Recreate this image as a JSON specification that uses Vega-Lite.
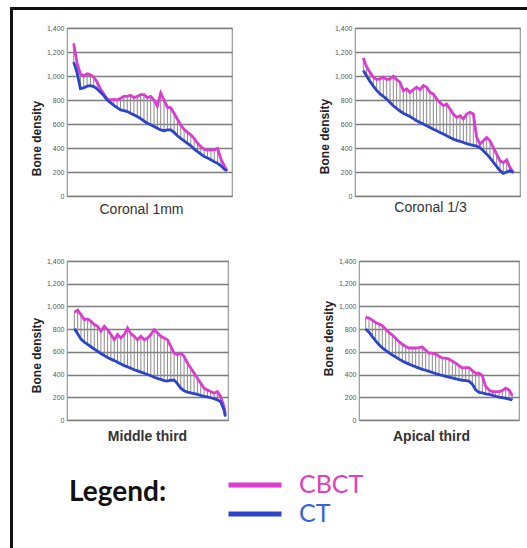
{
  "$schema": "https://vega.github.io/schema/vega-lite/v6.json",
  "padding": {"left": 10, "top": 7, "right": 0, "bottom": 0},
  "datasets": {
    "frame": [{"part": "frame"}],
    "p1": [
      {"i": 0, "CBCT": 1270, "CT": 1116}, {"i": 1, "CBCT": 1110, "CT": 1030}, {"i": 2, "CBCT": 1018, "CT": 895},
      {"i": 3, "CBCT": 1000, "CT": 900}, {"i": 4, "CBCT": 1018, "CT": 915}, {"i": 5, "CBCT": 1010, "CT": 920},
      {"i": 6, "CBCT": 990, "CT": 912}, {"i": 7, "CBCT": 950, "CT": 892}, {"i": 8, "CBCT": 892, "CT": 865},
      {"i": 9, "CBCT": 850, "CT": 837}, {"i": 10, "CBCT": 808, "CT": 800}, {"i": 11, "CBCT": 800, "CT": 778},
      {"i": 12, "CBCT": 805, "CT": 755}, {"i": 13, "CBCT": 800, "CT": 736}, {"i": 14, "CBCT": 815, "CT": 718},
      {"i": 15, "CBCT": 830, "CT": 711}, {"i": 16, "CBCT": 830, "CT": 704}, {"i": 17, "CBCT": 840, "CT": 690},
      {"i": 18, "CBCT": 820, "CT": 676}, {"i": 19, "CBCT": 830, "CT": 662}, {"i": 20, "CBCT": 845, "CT": 645},
      {"i": 21, "CBCT": 845, "CT": 625}, {"i": 22, "CBCT": 820, "CT": 607}, {"i": 23, "CBCT": 830, "CT": 593},
      {"i": 24, "CBCT": 800, "CT": 579}, {"i": 25, "CBCT": 750, "CT": 565}, {"i": 26, "CBCT": 860, "CT": 551},
      {"i": 27, "CBCT": 800, "CT": 544}, {"i": 28, "CBCT": 740, "CT": 551}, {"i": 29, "CBCT": 735, "CT": 551},
      {"i": 30, "CBCT": 690, "CT": 530}, {"i": 31, "CBCT": 640, "CT": 502}, {"i": 32, "CBCT": 590, "CT": 481},
      {"i": 33, "CBCT": 555, "CT": 460}, {"i": 34, "CBCT": 530, "CT": 439}, {"i": 35, "CBCT": 510, "CT": 418},
      {"i": 36, "CBCT": 480, "CT": 390}, {"i": 37, "CBCT": 440, "CT": 369}, {"i": 38, "CBCT": 410, "CT": 349},
      {"i": 39, "CBCT": 390, "CT": 328}, {"i": 40, "CBCT": 383, "CT": 316}, {"i": 41, "CBCT": 385, "CT": 302},
      {"i": 42, "CBCT": 385, "CT": 286}, {"i": 43, "CBCT": 397, "CT": 272}, {"i": 44, "CBCT": 307, "CT": 251},
      {"i": 45, "CBCT": 251, "CT": 223}, {"i": 45.8, "CBCT": 209, "CT": 209}
    ],
    "p2": [
      {"i": 0, "CBCT": 1150, "CT": 1045}, {"i": 1, "CBCT": 1074, "CT": 1000}, {"i": 2, "CBCT": 1032, "CT": 955},
      {"i": 3, "CBCT": 990, "CT": 915}, {"i": 4, "CBCT": 970, "CT": 880}, {"i": 5, "CBCT": 976, "CT": 850},
      {"i": 6, "CBCT": 990, "CT": 830}, {"i": 7, "CBCT": 970, "CT": 808}, {"i": 8, "CBCT": 976, "CT": 780},
      {"i": 9, "CBCT": 998, "CT": 752}, {"i": 10, "CBCT": 970, "CT": 729}, {"i": 11, "CBCT": 948, "CT": 708},
      {"i": 12, "CBCT": 878, "CT": 690}, {"i": 13, "CBCT": 892, "CT": 676}, {"i": 14, "CBCT": 864, "CT": 662},
      {"i": 15, "CBCT": 887, "CT": 645}, {"i": 16, "CBCT": 906, "CT": 627}, {"i": 17, "CBCT": 887, "CT": 613},
      {"i": 18, "CBCT": 920, "CT": 600}, {"i": 19, "CBCT": 906, "CT": 585}, {"i": 20, "CBCT": 864, "CT": 571},
      {"i": 21, "CBCT": 850, "CT": 557}, {"i": 22, "CBCT": 808, "CT": 543}, {"i": 23, "CBCT": 780, "CT": 530},
      {"i": 24, "CBCT": 753, "CT": 516}, {"i": 25, "CBCT": 767, "CT": 502}, {"i": 26, "CBCT": 725, "CT": 488},
      {"i": 27, "CBCT": 683, "CT": 474}, {"i": 28, "CBCT": 655, "CT": 464}, {"i": 29, "CBCT": 669, "CT": 456},
      {"i": 30, "CBCT": 641, "CT": 446}, {"i": 31, "CBCT": 683, "CT": 436}, {"i": 32, "CBCT": 697, "CT": 428},
      {"i": 33, "CBCT": 683, "CT": 421}, {"i": 34, "CBCT": 488, "CT": 415}, {"i": 35, "CBCT": 432, "CT": 402},
      {"i": 36, "CBCT": 460, "CT": 377}, {"i": 37, "CBCT": 488, "CT": 349}, {"i": 38, "CBCT": 460, "CT": 318},
      {"i": 39, "CBCT": 404, "CT": 283}, {"i": 40, "CBCT": 349, "CT": 246}, {"i": 41, "CBCT": 293, "CT": 211},
      {"i": 42, "CBCT": 279, "CT": 188}, {"i": 43, "CBCT": 300, "CT": 200}, {"i": 44, "CBCT": 237, "CT": 212},
      {"i": 45, "CBCT": 195, "CT": 195}
    ],
    "p3": [
      {"i": 0, "CBCT": 950, "CT": 805}, {"i": 1, "CBCT": 967, "CT": 760}, {"i": 2, "CBCT": 928, "CT": 712},
      {"i": 3, "CBCT": 884, "CT": 685}, {"i": 4, "CBCT": 890, "CT": 666}, {"i": 5, "CBCT": 869, "CT": 645},
      {"i": 6, "CBCT": 840, "CT": 624}, {"i": 7, "CBCT": 825, "CT": 605}, {"i": 8, "CBCT": 781, "CT": 585},
      {"i": 9, "CBCT": 825, "CT": 568}, {"i": 10, "CBCT": 796, "CT": 551}, {"i": 11, "CBCT": 752, "CT": 536},
      {"i": 12, "CBCT": 707, "CT": 523}, {"i": 13, "CBCT": 752, "CT": 509}, {"i": 14, "CBCT": 722, "CT": 494},
      {"i": 15, "CBCT": 752, "CT": 479}, {"i": 16, "CBCT": 811, "CT": 468}, {"i": 17, "CBCT": 760, "CT": 456},
      {"i": 18, "CBCT": 737, "CT": 442}, {"i": 19, "CBCT": 707, "CT": 432}, {"i": 20, "CBCT": 737, "CT": 422},
      {"i": 21, "CBCT": 707, "CT": 412}, {"i": 22, "CBCT": 722, "CT": 401}, {"i": 23, "CBCT": 752, "CT": 389},
      {"i": 24, "CBCT": 796, "CT": 377}, {"i": 25, "CBCT": 766, "CT": 365}, {"i": 26, "CBCT": 737, "CT": 357},
      {"i": 27, "CBCT": 722, "CT": 347}, {"i": 28, "CBCT": 707, "CT": 342}, {"i": 29, "CBCT": 648, "CT": 350},
      {"i": 30, "CBCT": 589, "CT": 351}, {"i": 31, "CBCT": 575, "CT": 320}, {"i": 32, "CBCT": 589, "CT": 280},
      {"i": 33, "CBCT": 560, "CT": 258}, {"i": 34, "CBCT": 501, "CT": 246}, {"i": 35, "CBCT": 457, "CT": 239},
      {"i": 36, "CBCT": 413, "CT": 233}, {"i": 37, "CBCT": 368, "CT": 225}, {"i": 38, "CBCT": 324, "CT": 216},
      {"i": 39, "CBCT": 280, "CT": 209}, {"i": 40, "CBCT": 265, "CT": 203}, {"i": 41, "CBCT": 250, "CT": 196},
      {"i": 42, "CBCT": 236, "CT": 187}, {"i": 43, "CBCT": 250, "CT": 177}, {"i": 44, "CBCT": 206, "CT": 160},
      {"i": 45, "CBCT": 118, "CT": 88}, {"i": 45.4, "CBCT": 50, "CT": 30}
    ],
    "p4": [
      {"i": 0, "CBCT": 905, "CT": 800}, {"i": 1, "CBCT": 897, "CT": 773}, {"i": 2, "CBCT": 880, "CT": 734},
      {"i": 3, "CBCT": 858, "CT": 697}, {"i": 4, "CBCT": 846, "CT": 663}, {"i": 5, "CBCT": 830, "CT": 634},
      {"i": 6, "CBCT": 800, "CT": 613}, {"i": 7, "CBCT": 770, "CT": 591}, {"i": 8, "CBCT": 748, "CT": 572},
      {"i": 9, "CBCT": 720, "CT": 555}, {"i": 10, "CBCT": 690, "CT": 536}, {"i": 11, "CBCT": 667, "CT": 520},
      {"i": 12, "CBCT": 648, "CT": 505}, {"i": 13, "CBCT": 634, "CT": 492}, {"i": 14, "CBCT": 634, "CT": 480},
      {"i": 15, "CBCT": 634, "CT": 468}, {"i": 16, "CBCT": 638, "CT": 457}, {"i": 17, "CBCT": 643, "CT": 446},
      {"i": 18, "CBCT": 614, "CT": 438}, {"i": 19, "CBCT": 588, "CT": 428}, {"i": 20, "CBCT": 588, "CT": 418},
      {"i": 21, "CBCT": 580, "CT": 408}, {"i": 22, "CBCT": 561, "CT": 400}, {"i": 23, "CBCT": 546, "CT": 392},
      {"i": 24, "CBCT": 544, "CT": 385}, {"i": 25, "CBCT": 536, "CT": 378}, {"i": 26, "CBCT": 518, "CT": 370},
      {"i": 27, "CBCT": 500, "CT": 363}, {"i": 28, "CBCT": 478, "CT": 355}, {"i": 29, "CBCT": 458, "CT": 350},
      {"i": 30, "CBCT": 462, "CT": 347}, {"i": 31, "CBCT": 462, "CT": 342}, {"i": 32, "CBCT": 434, "CT": 315},
      {"i": 33, "CBCT": 411, "CT": 265}, {"i": 34, "CBCT": 412, "CT": 243}, {"i": 35, "CBCT": 390, "CT": 238},
      {"i": 36, "CBCT": 294, "CT": 231}, {"i": 37, "CBCT": 265, "CT": 225}, {"i": 38, "CBCT": 250, "CT": 218},
      {"i": 39, "CBCT": 250, "CT": 209}, {"i": 40, "CBCT": 250, "CT": 202}, {"i": 41, "CBCT": 258, "CT": 196},
      {"i": 42, "CBCT": 280, "CT": 190}, {"i": 43, "CBCT": 265, "CT": 184}, {"i": 44, "CBCT": 214, "CT": 176}
    ]
  },
  "spacing": 0,
  "hconcat": [
    {
      "width": 3, "height": 541,
      "data": {"name": "frame"},
      "mark": {"type": "text", "fontSize": 0.1},
      "encoding": {"text": {"value": ""}},
      "view": {"fill": "#111111", "stroke": null}
    },
    {
      "spacing": 0,
      "vconcat": [
        {
          "width": 514, "height": 3,
          "data": {"name": "frame"},
          "mark": {"type": "text", "fontSize": 0.1},
          "encoding": {"text": {"value": ""}},
          "view": {"fill": "#111111", "stroke": null}
        },
        {
          "spacing": 15,
          "hconcat": [
            {
              "width": 1, "height": 1,
              "data": {"name": "frame"},
              "mark": {"type": "text", "fontSize": 0.1},
              "encoding": {"text": {"value": ""}},
              "view": {"stroke": null, "fill": null}
            },
            {
              "spacing": 12,
              "vconcat": [
                {
                  "width": 1, "height": 1,
                  "data": {"name": "frame"},
                  "mark": {"type": "text", "fontSize": 0.1},
                  "encoding": {"text": {"value": ""}},
                  "view": {"stroke": null, "fill": null}
                },
                {
                  "spacing": 39,
                  "vconcat": [
                    {
                      "spacing": 83,
                      "hconcat": [
                        {
                          "width": 165, "height": 168,
                          "data": {"name": "p1"},
                          "encoding": {"x": {"field": "i", "type": "quantitative", "scale": {"domain": [-2, 47.3], "nice": false, "zero": false}, "axis": {"title": "Coronal 1mm", "titleX": 74, "titlePadding": 6}}},
                          "layer": [
                            {"mark": {"type": "rule", "color": "#8a8a8a", "strokeWidth": 1},
                             "encoding": {"y": {"field": "CT", "type": "quantitative", "scale": {"domain": [0, 1400], "nice": false}, "axis": {"title": "Bone density", "format": ",d", "values": [0, 200, 400, 600, 800, 1000, 1200, 1400], "titleY": 110}}, "y2": {"field": "CBCT"}}},
                            {"transform": [{"fold": ["CBCT", "CT"], "as": ["series", "value"]}],
                             "mark": {"type": "line", "strokeWidth": 2.8},
                             "encoding": {"y": {"field": "value", "type": "quantitative", "axis": {"title": "Bone density", "format": ",d", "values": [0, 200, 400, 600, 800, 1000, 1200, 1400], "titleY": 110}},
                               "color": {"field": "series", "type": "nominal", "title": "Legend:", "scale": {"domain": ["CBCT", "CT"], "range": ["#dc3cd0", "#2c44cc"]}}}}
                          ]
                        },
                        {
                          "width": 165, "height": 168,
                          "data": {"name": "p2"},
                          "encoding": {"x": {"field": "i", "type": "quantitative", "scale": {"domain": [-2.5, 47], "nice": false, "zero": false}, "axis": {"title": "Coronal 1/3", "titleX": 75, "titlePadding": 4}}},
                          "layer": [
                            {"mark": {"type": "rule", "color": "#8a8a8a", "strokeWidth": 1},
                             "encoding": {"y": {"field": "CT", "type": "quantitative", "scale": {"domain": [0, 1400], "nice": false}, "axis": {"title": "Bone density", "format": ",d", "values": [0, 200, 400, 600, 800, 1000, 1200, 1400], "titleY": 108}}, "y2": {"field": "CBCT"}}},
                            {"transform": [{"fold": ["CBCT", "CT"], "as": ["series", "value"]}],
                             "mark": {"type": "line", "strokeWidth": 2.8},
                             "encoding": {"y": {"field": "value", "type": "quantitative", "axis": {"title": "Bone density", "format": ",d", "values": [0, 200, 400, 600, 800, 1000, 1200, 1400], "titleY": 108}},
                               "color": {"field": "series", "type": "nominal", "title": "Legend:", "scale": {"domain": ["CBCT", "CT"], "range": ["#dc3cd0", "#2c44cc"]}}}}
                          ]
                        }
                      ]
                    },
                    {
                      "spacing": 89,
                      "hconcat": [
                        {
                          "width": 161, "height": 159,
                          "data": {"name": "p3"},
                          "encoding": {"x": {"field": "i", "type": "quantitative", "scale": {"domain": [-2.2, 46.2], "nice": false, "zero": false}, "axis": {"title": "Middle third", "titleX": 80, "titlePadding": 9, "titleFontWeight": "bold"}}},
                          "layer": [
                            {"mark": {"type": "rule", "color": "#8a8a8a", "strokeWidth": 1},
                             "encoding": {"y": {"field": "CT", "type": "quantitative", "scale": {"domain": [0, 1400], "nice": false}, "axis": {"title": "Bone density", "format": ",d", "values": [0, 200, 400, 600, 800, 1000, 1200, 1400], "titleY": 94}}, "y2": {"field": "CBCT"}}},
                            {"transform": [{"fold": ["CBCT", "CT"], "as": ["series", "value"]}],
                             "mark": {"type": "line", "strokeWidth": 2.8},
                             "encoding": {"y": {"field": "value", "type": "quantitative", "axis": {"title": "Bone density", "format": ",d", "values": [0, 200, 400, 600, 800, 1000, 1200, 1400], "titleY": 94}},
                               "color": {"field": "series", "type": "nominal", "title": "Legend:", "scale": {"domain": ["CBCT", "CT"], "range": ["#dc3cd0", "#2c44cc"]}}}}
                          ]
                        },
                        {
                          "width": 160, "height": 159,
                          "data": {"name": "p4"},
                          "encoding": {"x": {"field": "i", "type": "quantitative", "scale": {"domain": [-2, 46], "nice": false, "zero": false}, "axis": {"title": "Apical third", "titleX": 72, "titlePadding": 9, "titleFontWeight": "bold"}}},
                          "layer": [
                            {"mark": {"type": "rule", "color": "#8a8a8a", "strokeWidth": 1},
                             "encoding": {"y": {"field": "CT", "type": "quantitative", "scale": {"domain": [0, 1400], "nice": false}, "axis": {"title": "Bone density", "format": ",d", "values": [0, 200, 400, 600, 800, 1000, 1200, 1400], "titleY": 77}}, "y2": {"field": "CBCT"}}},
                            {"transform": [{"fold": ["CBCT", "CT"], "as": ["series", "value"]}],
                             "mark": {"type": "line", "strokeWidth": 2.8},
                             "encoding": {"y": {"field": "value", "type": "quantitative", "axis": {"title": "Bone density", "format": ",d", "values": [0, 200, 400, 600, 800, 1000, 1200, 1400], "titleY": 77}},
                               "color": {"field": "series", "type": "nominal", "title": "Legend:", "scale": {"domain": ["CBCT", "CT"], "range": ["#dc3cd0", "#2c44cc"]}}}}
                          ]
                        }
                      ]
                    }
                  ]
                }
              ]
            }
          ]
        }
      ]
    }
  ],
  "config": {
    "font": "Liberation Sans",
    "background": "white",
    "view": {"stroke": "#9a9a9a", "strokeWidth": 1.2},
    "axisY": {"grid": true, "gridColor": "#7d7d7d", "gridWidth": 1.5, "ticks": false, "domain": false, "labelFontSize": 7, "labelColor": "#555555", "labelPadding": 3, "titleFontSize": 12, "titleFontWeight": "bold", "titleColor": "#222222", "titlePadding": 3},
    "axisX": {"labels": false, "ticks": false, "domain": false, "grid": false, "titleFontSize": 14, "titleColor": "#333333", "titleFontWeight": "normal"},
    "legend": {
      "orient": "none", "legendX": 59, "legendY": 463.5,
      "titleOrient": "left", "titleAnchor": "start", "titleBaseline": "line-top", "titleLineHeight": 44,
      "titleFont": "Lato", "titleFontSize": 28, "titleFontWeight": "bold", "titleColor": "#111111", "titlePadding": 59,
      "symbolType": "stroke", "symbolSize": 2809, "symbolStrokeWidth": 5,
      "labelFont": "Lato", "labelFontSize": 25, "labelOffset": 15,
      "labelColor": {"expr": "datum.value === 'CBCT' ? '#e040b8' : '#3565d8'"},
      "clipHeight": 29, "rowPadding": 0, "padding": 0
    }
  }
}
